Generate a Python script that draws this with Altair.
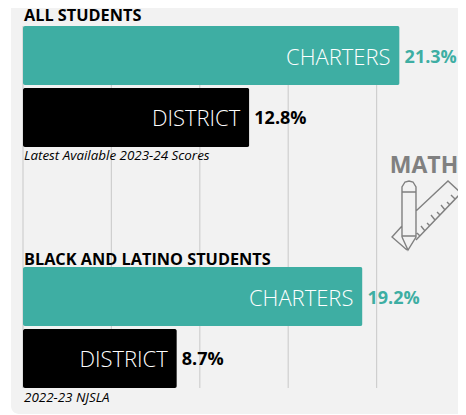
import altair as alt
import pandas as pd

groups = ["ALL STUDENTS", "BLACK AND LATINO STUDENTS"]
series = ["CHARTERS", "DISTRICT"]
all_values = [21.3, 12.8]
bl_values = [19.2, 8.7]
notes = ["Latest Available 2023-24 Scores", "2022-23 NJSLA"]
grid_ticks = [0, 5, 10, 15, 20]
x_max = 24.604
TEAL = "#3eaea3"
GRAY = "#808080"
FONT = "Open Sans"

df = pd.DataFrame({
    "group": [groups[0]] * 2 + [groups[1]] * 2,
    "series": series * 2,
    "value": all_values + bl_values,
})
df["label"] = df["value"].map(lambda v: f"{v:.1f}%")
gdf = pd.DataFrame({"group": groups, "note": notes, "zero": [0, 0]})

xscale = alt.Scale(domain=[0, x_max], nice=False)
x = alt.X("value:Q", axis=None, scale=xscale)
x0 = alt.X("zero:Q", axis=None, scale=xscale)
y = alt.Y("group:N", axis=None, sort=groups,
          scale=alt.Scale(domain=groups, paddingInner=0.498, paddingOuter=0))
yo = alt.YOffset("series:N", sort=series,
                 scale=alt.Scale(domain=series, paddingInner=0.048, paddingOuter=0))
col = alt.Color("series:N", legend=None,
                scale=alt.Scale(domain=series, range=[TEAL, "#000000"]))

panel = alt.Chart(pd.DataFrame({"a": [0]})).mark_rect(color="#f2f2f2", cornerRadius=8).encode(
    x=alt.value(-12), x2=alt.value(480), y=alt.value(-30), y2=alt.value(388))

grid = alt.Chart(pd.DataFrame({"value": grid_ticks})).mark_rule(color="#cfcfcf", strokeWidth=1.2).encode(x=x)

bars = alt.Chart(df).mark_bar(cornerRadius=2).encode(x=x, y=y, yOffset=yo, color=col)

inner = alt.Chart(df).mark_text(align="right", baseline="middle", dx=-9, dy=2, font=FONT,
                                fontSize=22, fontWeight=300, color="white").encode(
    x=x, y=y, yOffset=yo, text="series:N")

val = alt.Chart(df).mark_text(align="left", baseline="middle", dx=5, dy=2, font=FONT,
                              fontSize=18, fontWeight=700).encode(
    x=x, y=y, yOffset=yo, text="label:N", color=col)

title_style = dict(align="left", baseline="middle", dx=1, font=FONT,
                   fontSize=16.3, fontWeight=700, color="black")
title1 = alt.Chart(gdf[gdf["group"] == groups[0]]).mark_text(dy=-70, **title_style).encode(
    x=x0, y=y, text="group:N")
title2 = alt.Chart(gdf[gdf["group"] == groups[1]]).mark_text(dy=-68, **title_style).encode(
    x=x0, y=y, text="group:N")

note_text = alt.Chart(gdf).mark_text(align="left", baseline="middle", dx=1, dy=70, font=FONT,
                                     fontSize=13.4, fontStyle="italic", color="black").encode(
    x=x0, y=y, text="note:N")

math = alt.Chart(pd.DataFrame({"t": ["MATH"]})).mark_text(
    align="center", baseline="middle", font=FONT, fontSize=23, fontWeight=700, color=GRAY).encode(
    x=alt.value(401), y=alt.value(140), text="t:N")

# icon outline, in pixels around its own centre (scaled to the symbol's unit box)
R = 36.0
CX, CY = 426.0, 215.0
def P(segments):
    out = []
    for seg in segments:
        for i, (a, b) in enumerate(seg):
            out.append(f"{'M' if i == 0 else 'L'}{(a-CX)/R:.3f} {(b-CY)/R:.3f}")
    return " ".join(out)

ruler = [[(416, 211), (448, 181), (461, 193), (416, 240)],
         [(402, 226), (392, 237), (407, 250)],
         [(420, 236), (417, 233)], [(425, 231), (421, 226)], [(430, 226), (427, 223)],
         [(435, 220), (431, 215)], [(440, 215), (437, 212)], [(445, 210), (441, 205)],
         [(450, 205), (447, 202)], [(455, 199), (451, 195)]]
pencil = [[(402, 237), (402, 187), (405, 182), (409, 181), (413, 182), (416, 187), (416, 237), (408, 250), (402, 237)],
          [(402, 192), (416, 192)], [(402, 236), (416, 236)]]
icon_path = P(ruler + pencil)

icon = alt.Chart(pd.DataFrame({"a": [0]})).mark_point(
    shape=icon_path, size=(2 * R) ** 2, filled=False, stroke=GRAY, strokeWidth=1.4, opacity=1).encode(
    x=alt.value(CX - 23), y=alt.value(CY - 26))

chart = alt.layer(panel, grid, bars, inner, val, title1, title2, note_text, math, icon).resolve_scale(
    x="shared", y="shared").properties(
    width=435, height=362,
    padding={"left": 15, "top": 18, "right": 0, "bottom": 26},
    autosize=alt.AutoSizeParams(type="none"),
    background="white",
).configure_view(stroke=None)

chart.save("out.html", embed_options={"renderer": "svg", "actions": False})
